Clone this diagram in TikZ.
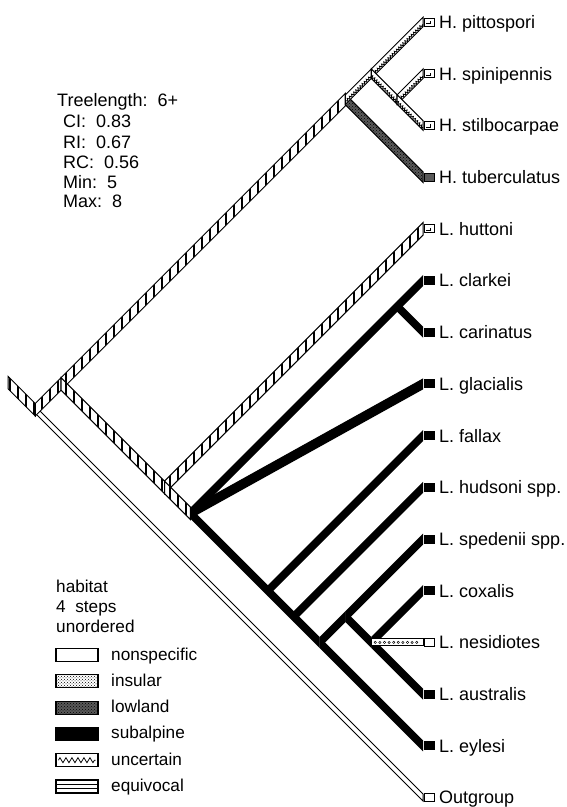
\documentclass[tikz,border=0pt]{standalone}
\usepackage{fontspec}
\setmainfont{Liberation Sans}
\usetikzlibrary{calc,patterns,decorations.pathmorphing}

% slanted cladogram: all tips share one x, tips evenly spaced downwards
\def\tipx{423}
\def\tipy{22}
\def\halfgap{25.85}

\tikzset{
  taxon/.style={anchor=base west, inner sep=0pt, font=\fontsize{18}{20}\selectfont},
  infotext/.style={anchor=base west, inner sep=0pt, font=\fontsize{18}{20}\selectfont},
  keytext/.style={anchor=base west, inner sep=0pt, font=\fontsize{17.2}{20}\selectfont},
  edge/.style={draw=black, line width=1pt, line join=miter},
  rung/.style={line width=1.6pt},
  tipbox/.style={draw=black, line width=0.9pt, minimum width=10pt, minimum height=8pt, inner sep=0pt, anchor=west},
  tipsub/.style={tipbox, fill=black},
  tiplow/.style={tipbox, fill=black!65},
  tipnon/.style={tipbox, fill=white},
  tipunc/.style={tipbox, fill=white, path picture={\draw[line width=0.8pt] ($(path picture bounding box.south west)+(2,-2.5)$) -- ++(4,0) -- ++(0,-2.5);}},
  tipins/.style={tipbox, fill=white, path picture={\fill (path picture bounding box.center) circle (1.2);}},
  keybox/.style={draw=black, line width=1.1pt, minimum width=42pt, minimum height=13pt, inner sep=0pt},
}

% internal node spanning tips #2..#3
\newcommand{\cladenode}[3]{\coordinate (#1) at ({\tipx-\halfgap*(#3-#2)},{\tipy+\halfgap*(#2+#3)});}
% branch from #2 to #3 as a band with vertical ends of height #4
\newcommand{\plainbar}[4][]{\path[#1] ($(#2)+(0,-#4/2)$) -- ($(#3)+(0,-#4/2)$) -- ($(#3)+(0,#4/2)$) -- ($(#2)+(0,#4/2)$) -- cycle;}
% equivocal: open band crossed by vertical rungs
\newcommand{\equivbar}[3]{%
  \begin{scope}
    \plainbar[clip]{#1}{#2}{#3}
    \fill[white] (0,0) rectangle (567,807);
    \foreach \xx in {2,10,...,434} \draw[rung] (\xx,0) -- (\xx,807);
  \end{scope}
  \plainbar[edge]{#1}{#2}{#3}}
% uncertain: open band with a row of small teeth
\newcommand{\uncbar}[3]{%
  \begin{scope}
    \plainbar[clip]{#1}{#2}{#3}
    \fill[white] (0,0) rectangle (567,807);
    \draw[line width=0.8pt, decorate, decoration={zigzag, segment length=3pt, amplitude=1.3pt}]
      ($(#1)+(0,#3/2-2.4)$) -- ($(#2)+(0,#3/2-2.4)$);
  \end{scope}
  \plainbar[edge]{#1}{#2}{#3}}
% subalpine: solid black band
\newcommand{\subbar}[2]{\plainbar[fill=black]{#1}{#2}{11}}

\begin{document}
\begin{tikzpicture}[x=1pt, y=-1pt]
  \useasboundingbox (0,0) rectangle (567,807);
  \fill[white] (0,0) rectangle (567,807);

  % tips
  \foreach \i in {0,...,15}
    \coordinate (t\i) at (\tipx, {\tipy+2*\halfgap*\i});

  % internal nodes
  \cladenode{R}{0}{15}   % root
  \cladenode{I}{0}{14}   % ingroup
  \cladenode{H}{0}{3}
  \cladenode{Hp}{0}{2}
  \cladenode{Hs}{1}{2}
  \cladenode{L}{4}{14}
  \cladenode{Lc}{5}{14}
  \cladenode{CC}{5}{6}
  \cladenode{F}{8}{14}
  \cladenode{Hu}{9}{14}
  \cladenode{E}{10}{14}
  \cladenode{Q}{10}{13}
  \cladenode{C3}{11}{13}
  \coordinate (S) at ($(R)+(-27,-27)$);

  % basal branches
  \equivbar{S}{R}{12.5}
  \plainbar[fill=white, edge]{R}{t15}{7}
  \equivbar{R}{I}{12.5}
  \equivbar{I}{H}{12.5}
  \equivbar{I}{L}{12.5}
  \equivbar{L}{t4}{12.5}
  \equivbar{L}{Lc}{12.5}

  % H clade
  \plainbar[fill=black!65, edge]{H}{t3}{10.5}
  \plainbar[pattern=crosshatch dots, pattern color=black]{H}{t3}{10.5}
  \uncbar{H}{Hp}{9.5}
  \uncbar{Hp}{t0}{9.5}
  \uncbar{Hp}{Hs}{9.5}
  \uncbar{Hs}{t1}{9.5}
  \uncbar{Hs}{t2}{9.5}

  % subalpine clade
  \subbar{Lc}{CC}
  \subbar{CC}{t5}
  \subbar{CC}{t6}
  \subbar{Lc}{t7}
  \subbar{Lc}{F}
  \subbar{F}{t8}
  \subbar{F}{Hu}
  \subbar{Hu}{t9}
  \subbar{Hu}{E}
  \subbar{E}{t14}
  \subbar{E}{Q}
  \subbar{Q}{t10}
  \subbar{Q}{C3}
  \subbar{C3}{t11}
  \subbar{C3}{t13}

  % insular branch
  \plainbar[fill=white, edge]{C3}{t12}{7}
  \draw[line width=3pt, line cap=round, dash pattern=on 0pt off 4.6pt, shorten <=4pt, shorten >=2pt] (C3) -- (t12);
  \draw[white, line width=1.2pt, line cap=round, dash pattern=on 0pt off 4.6pt, shorten <=4pt, shorten >=2pt] (C3) -- (t12);

  % terminal state boxes
  \node[tipunc] (b0) at ($(t0)+(1,0)$) {};
  \node[tipunc] (b1) at ($(t1)+(1,0)$) {};
  \node[tipunc] (b2) at ($(t2)+(1,0)$) {};
  \node[tiplow] (b3) at ($(t3)+(1,0)$) {};
  \node[tipunc] (b4) at ($(t4)+(1,0)$) {};
  \foreach \i in {5,...,11,13,14}
    \node[tipsub] (b\i) at ($(t\i)+(1,0)$) {};
  \node[tipins] (b12) at ($(t12)+(1,0)$) {};
  \node[tipnon] (b15) at ($(t15)+(1,0)$) {};

  % taxon names
  \foreach \i/\txt in {0/H. pittospori, 1/H. spinipennis, 2/H. stilbocarpae, 3/H. tuberculatus,
      4/L. huttoni, 5/L. clarkei, 6/L. carinatus, 7/L. glacialis, 8/L. fallax,
      9/L. hudsoni spp., 10/L. spedenii spp., 11/L. coxalis, 12/L. nesidiotes,
      13/L. australis, 14/L. eylesi, 15/Outgroup}
    \node[taxon] (n\i) at ($(t\i)+(16,6.4)$) {\txt};

  % tree statistics
  \node[infotext] (stat1) at (57,106) {Treelength:\ \ 6+};
  \node[infotext] (stat2) at (63,127.5) {CI:\ \ 0.83};
  \node[infotext] (stat3) at (63,148) {RI:\ \ 0.67};
  \node[infotext] (stat4) at (63,168.5) {RC:\ \ 0.56};
  \node[infotext] (stat5) at (63,188.5) {Min:\ \ 5};
  \node[infotext] (stat6) at (63,207.5) {Max:\ \ 8};

  % character legend
  \node[keytext] (head1) at (56,592.5) {habitat};
  \node[keytext] (head2) at (56,612.5) {4\ \ steps};
  \node[keytext] (head3) at (56,632.5) {unordered};

  \node[keybox, fill=white] (k1) at (77,655) {};
  \node[keybox, fill=white] (k2) at (77,681.3) {};
  \fill[pattern=crosshatch dots, pattern color=black] ($(k2.south west)+(1,-1)$) rectangle ($(k2.north east)+(-1,1)$);
  \node[keybox, fill=black!65] (k3) at (77,707.6) {};
  \fill[pattern=crosshatch dots, pattern color=black] ($(k3.south west)+(1,-1)$) rectangle ($(k3.north east)+(-1,1)$);
  \node[keybox, fill=black] (k4) at (77,733.9) {};
  \node[keybox, fill=white] (k5) at (77,760.2) {};
  \draw[line width=0.8pt, decorate, decoration={zigzag, segment length=6pt, amplitude=2.5pt}]
    ($(k5.west)+(3,0)$) -- ($(k5.east)+(-3,0)$);
  \node[keybox, fill=white] (k6) at (77,786.5) {};
  \draw[line width=1pt] ($(k6.west)+(0,-2.2)$) -- ($(k6.east)+(0,-2.2)$);
  \draw[line width=1pt] ($(k6.west)+(0,2.2)$) -- ($(k6.east)+(0,2.2)$);

  \node[keytext] (l1) at (111,660) {nonspecific};
  \node[keytext] (l2) at (111,686.3) {insular};
  \node[keytext] (l3) at (111,712.6) {lowland};
  \node[keytext] (l4) at (111,738.9) {subalpine};
  \node[keytext] (l5) at (111,765.2) {uncertain};
  \node[keytext] (l6) at (111,791.5) {equivocal};
\end{tikzpicture}
\end{document}
